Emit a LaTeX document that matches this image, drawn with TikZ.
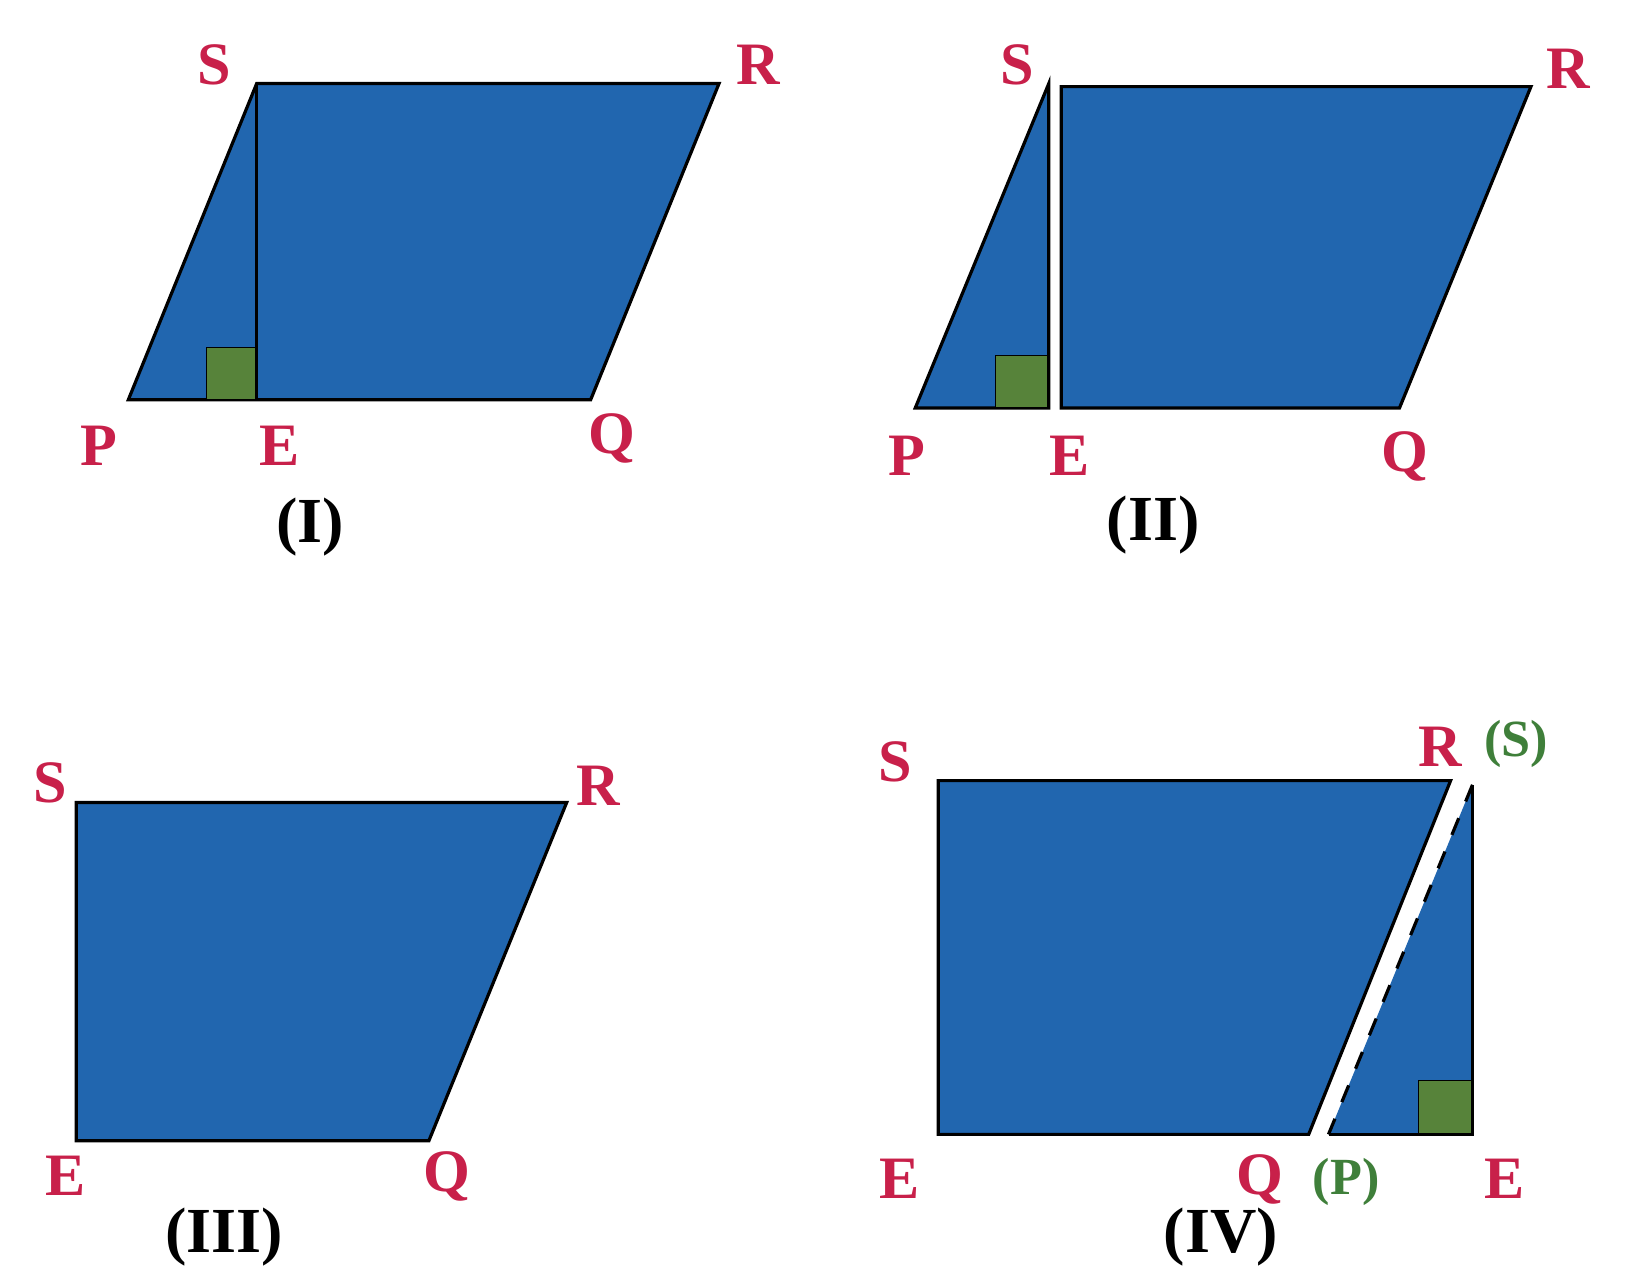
\documentclass[tikz,border=0pt]{standalone}
\usepackage{fontspec}
\setmainfont{Liberation Serif}
\begin{document}
\begin{tikzpicture}[x=0.52pt,y=-0.52pt,
  shp/.style={fill=blu,draw=black,line width=1.6pt,line join=miter},
  sq/.style={fill=grn,draw=black,line width=0.6pt},
  lb/.style={text=lred,font=\bfseries\fontsize{30}{30}\selectfont,inner sep=0pt},
  lg/.style={text=lgrn,font=\bfseries\fontsize{26}{26}\selectfont,inner sep=0pt},
  captxt/.style={text=black,font=\bfseries\fontsize{32}{32}\selectfont,inner sep=0pt}]
\definecolor{blu}{HTML}{2166AF}
\definecolor{grn}{HTML}{57833A}
\definecolor{lred}{HTML}{C8204A}
\definecolor{lgrn}{HTML}{3F7F3A}
\useasboundingbox (0,0) rectangle (1560,1218);
% Panel I
\draw[shp] (123,383) -- (566,383) -- (689,80) -- (246,80) -- cycle;
\draw[sq] (198,333) rectangle (246,383);
\draw[line width=1.6pt] (246,80) -- (246,383);
\node[lb] (s1) at (205,62) {S};
\node[lb] (r1) at (727,62) {R};
\node[lb] (p1) at (95,427) {P};
\node[lb] (e1) at (268,427) {E};
\node[lb] (q1) at (586,420) {Q};
\node[captxt] (c1) at (297,505) {(I)};
% Panel II
\draw[shp] (877,391) -- (1005,391) -- (1005,80) -- cycle;
\draw[sq] (954,341) rectangle (1005,391);
\draw[line width=1.6pt] (1005,80) -- (1005,391);
\draw[shp] (1017,391) -- (1017,83) -- (1467,83) -- (1341,391) -- cycle;
\node[lb] (s2) at (975,62) {S};
\node[lb] (r2) at (1503,66) {R};
\node[lb] (p2) at (869,437) {P};
\node[lb] (e2) at (1025,437) {E};
\node[lb] (q2) at (1346,437) {Q};
\node[captxt] (c2) at (1105,503) {(II)};
% Panel III
\draw[shp] (73,769) -- (543,769) -- (411,1093) -- (73,1093) -- cycle;
\node[lb] (s3) at (48,750) {S};
\node[lb] (r3) at (573,753) {R};
\node[lb] (e3) at (63,1127) {E};
\node[lb] (q3) at (428,1127) {Q};
\node[captxt] (c3) at (215,1185) {(III)};
% Panel IV
\draw[shp] (899,748) -- (1390,748) -- (1254,1087) -- (899,1087) -- cycle;
\fill[blu] (1273,1087) -- (1411,1087) -- (1411,752) -- cycle;
\draw[sq] (1359,1035) rectangle (1411,1087);
\draw[line width=1.6pt] (1273,1087) -- (1411,1087) -- (1411,752);
\draw[line width=1.6pt,dash pattern=on 9pt off 9pt] (1411,752) -- (1273,1087);
\node[lb] (s4) at (858,730) {S};
\node[lb] (r4) at (1380,716) {R};
\node[lg] (s4b) at (1453,713) {(S)};
\node[lb] (e4) at (862,1130) {E};
\node[lb] (q4) at (1207,1130) {Q};
\node[lg] (p4) at (1290,1133) {(P)};
\node[lb] (e4b) at (1442,1130) {E};
\node[captxt] (c4) at (1170,1185) {(IV)};
\end{tikzpicture}
\end{document}
